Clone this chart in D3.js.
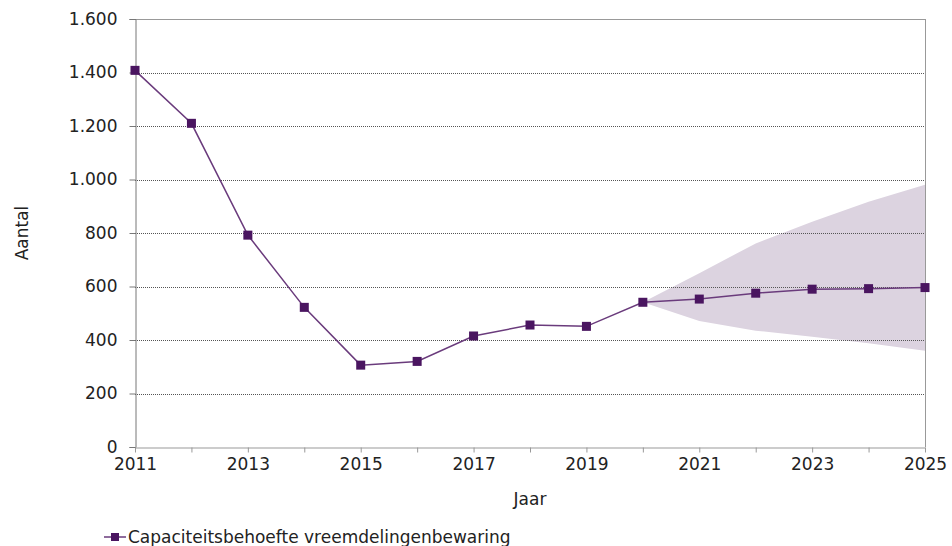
<!DOCTYPE html>
<html>
<head>
<meta charset="utf-8">
<script src="https://cdn.jsdelivr.net/npm/d3@7"></script>
<style>
	body { margin: 0; background: #fff; }
	text { font-family: "DejaVu Sans", Verdana, sans-serif; fill: #222; }
</style>
</head>
<body>
<div id="chart"></div>
<script>
// years and the capacity series
var years = [2011, 2012, 2013, 2014, 2015, 2016, 2017, 2018, 2019, 2020, 2021, 2022, 2023, 2024, 2025];
var capaciteit = [1408, 1210, 792, 522, 306, 320, 415, 456, 451, 541, 553, 575, 590, 592, 596];

// forecast band (2020 - 2025)
var bandYears = [2020, 2021, 2022, 2023, 2024, 2025];
var bandLow = [541, 471, 435, 412, 388, 360];
var bandHigh = [541, 650, 761, 842, 917, 980];

var yTicks = [0, 200, 400, 600, 800, 1000, 1200, 1400, 1600];
var xLabelYears = [2011, 2013, 2015, 2017, 2019, 2021, 2023, 2025];

var width = 952, height = 546;
var plotLeft = 135, plotRight = 925, plotTop = 19, plotBottom = 447;

var svg = d3.select("#chart").append("svg")
	.attr("width", width)
	.attr("height", height);

var x = d3.scaleLinear().domain([2011, 2025]).range([plotLeft, plotRight]);
var y = d3.scaleLinear().domain([0, 1600]).range([plotBottom, plotTop]);

var fmt = function(v){ return d3.format(",")(v).replace(/,/g, "."); };

//band
var bandData = bandYears.map(function(yr, i){ return [yr, bandLow[i], bandHigh[i]]; });
svg.append("path")
	.datum(bandData)
	.attr("d", d3.area()
		.x(function(d){ return x(d[0]); })
		.y0(function(d){ return y(d[1]); })
		.y1(function(d){ return y(d[2]); }))
	.style("fill", "#dcd3e0");

//gridlines
svg.append("g").selectAll("line").data(yTicks.filter(function(v){ return v > 0; })).enter().append("line")
	.attr("x1", plotLeft).attr("x2", plotRight)
	.attr("y1", function(d){ return Math.round(y(d)) + 0.5; })
	.attr("y2", function(d){ return Math.round(y(d)) + 0.5; })
	.attr("stroke", function(d){ return d === 1600 ? "#999" : "#555"; })
	.attr("stroke-width", 1)
	.attr("stroke-dasharray", function(d){ return d === 1600 ? null : "1,1"; });

//right border
svg.append("line")
	.attr("x1", plotRight + 0.5).attr("x2", plotRight + 0.5)
	.attr("y1", plotTop).attr("y2", plotBottom)
	.attr("stroke", "#999");

//axes
var yAxis = d3.axisLeft(y).tickValues(yTicks).tickFormat(fmt).tickSize(6).tickPadding(12);
var yg = svg.append("g").attr("transform", "translate(" + (plotLeft + 0.5) + ",0)").call(yAxis);
yg.select(".domain").attr("stroke", "#777");
yg.selectAll(".tick line").attr("stroke", "#777");
yg.selectAll("text").style("font-size", "17px").attr("fill", "#222")
	.attr("font-family", "DejaVu Sans, Verdana, sans-serif");

var xAxis = d3.axisBottom(x).tickValues(years).tickFormat(function(d){
	return xLabelYears.indexOf(d) >= 0 ? d : "";
}).tickSize(5).tickSizeOuter(0).tickPadding(5);
var xg = svg.append("g").attr("transform", "translate(0," + (plotBottom + 0.5) + ")").call(xAxis);
xg.select(".domain").attr("stroke", "#999");
xg.selectAll(".tick line").attr("stroke", "#999");
xg.selectAll("text").style("font-size", "17px").attr("fill", "#222")
	.attr("font-family", "DejaVu Sans, Verdana, sans-serif");

//line
var lineData = years.map(function(yr, i){ return [yr, capaciteit[i]]; });
svg.append("path")
	.datum(lineData)
	.attr("d", d3.line().x(function(d){ return x(d[0]); }).y(function(d){ return y(d[1]); }))
	.attr("fill", "none")
	.attr("stroke", "#6a3b7c")
	.attr("stroke-width", 1.5);

svg.append("g").selectAll("rect").data(lineData).enter().append("rect")
	.attr("x", function(d){ return x(d[0]) - 4.5; })
	.attr("y", function(d){ return y(d[1]) - 4.5; })
	.attr("width", 9).attr("height", 9)
	.style("fill", "#4a1560");

//axis titles
svg.append("text")
	.attr("transform", "translate(28," + ((plotTop + plotBottom) / 2) + ") rotate(-90)")
	.attr("text-anchor", "middle")
	.style("font-size", "17px")
	.text("Aantal");

svg.append("text")
	.attr("x", (plotLeft + plotRight) / 2).attr("y", 505)
	.attr("text-anchor", "middle")
	.style("font-size", "17px")
	.text("Jaar");

//legend
var lg = svg.append("g").attr("transform", "translate(0,537)");
lg.append("line").attr("x1", 104).attr("x2", 126).attr("y1", 0).attr("y2", 0)
	.attr("stroke", "#6a3b7c").attr("stroke-width", 1.5);
lg.append("rect").attr("x", 111).attr("y", -4).attr("width", 8).attr("height", 8).style("fill", "#4a1560");
lg.append("text").attr("x", 128).attr("y", 6)
	.style("font-size", "17px")
	.text("Capaciteitsbehoefte vreemdelingenbewaring");
</script>
</body>
</html>
